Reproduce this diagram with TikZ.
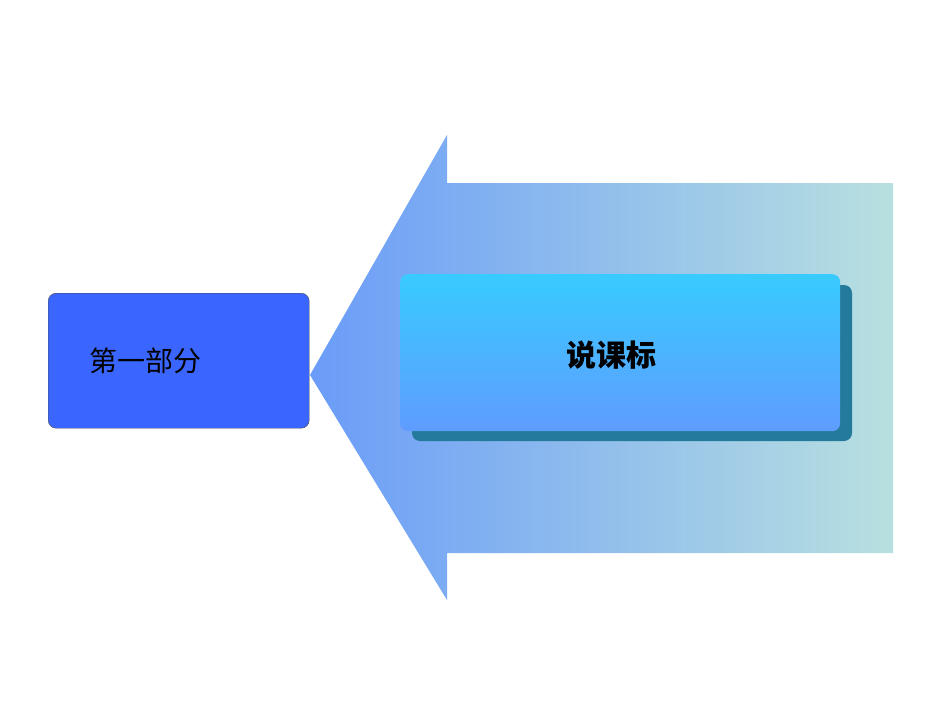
\documentclass[tikz,border=0pt]{standalone}
\usepackage{fontspec}
\newfontfamily\cjk{Noto Sans CJK SC}
\definecolor{arrL}{HTML}{6A9CF8}
\definecolor{arrR}{HTML}{B8E0E0}
\definecolor{boxL}{HTML}{3A66FF}
\definecolor{boxT}{HTML}{38CBFF}
\definecolor{boxB}{HTML}{5F9CFF}
\definecolor{shad}{HTML}{237A9A}
\begin{document}
\begin{tikzpicture}[x=1pt,y=-1pt,
  lbl/.style={font=\cjk\fontsize{28}{30}\selectfont,text=black}]
\useasboundingbox (0,0) rectangle (950,713);
\fill[white] (0,0) rectangle (950,713);
\shade[left color=arrL,right color=arrR]
  (310,375) -- (447,135) -- (447,183) -- (893,183) -- (893,553) -- (447,553) -- (447,600) -- cycle;
\node (left) [draw=black!70,fill=boxL,rounded corners=8pt,minimum width=261pt,minimum height=135pt,anchor=north west] at (48,293) {};
\node[lbl] (lt) at (145,361) {第一部分};
\fill[shad,rounded corners=8pt] (412,285) rectangle (852,441);
\node (right) [top color=boxT,bottom color=boxB,rounded corners=8pt,minimum width=440pt,minimum height=157pt,anchor=north west] at (400,274) {};
\node[lbl,font=\cjk\bfseries\fontsize{30}{32}\selectfont] (rt) at (611,355) {说课标};
\end{tikzpicture}
\end{document}
